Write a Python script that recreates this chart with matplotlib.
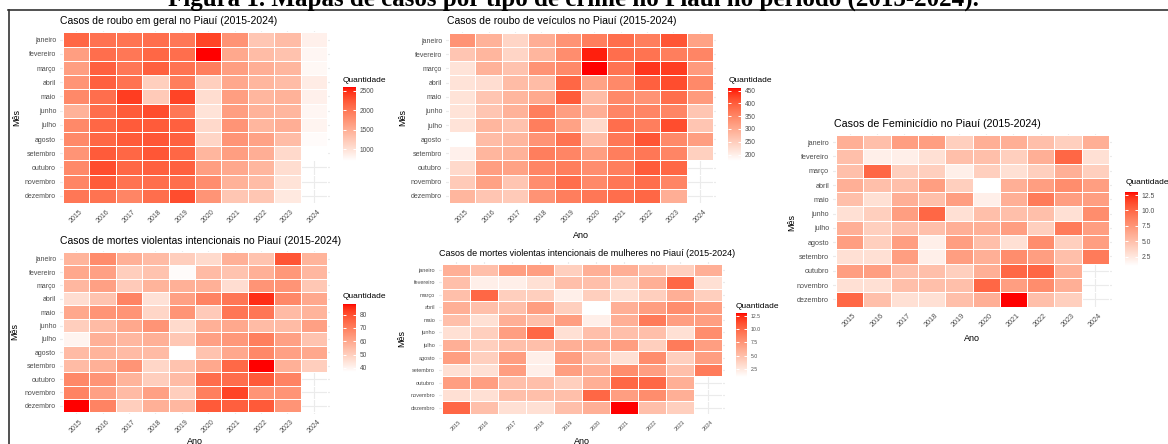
import numpy as np
import matplotlib
matplotlib.use("Agg")
import matplotlib.pyplot as plt
from matplotlib.colors import ListedColormap
from matplotlib.lines import Line2D

# figure size in pixels (dpi 100)
W, H = 1168, 444

MESES = ["janeiro", "fevereiro", "março", "abril", "maio", "junho", "julho",
         "agosto", "setembro", "outubro", "novembro", "dezembro"]
ANOS = ["2015", "2016", "2017", "2018", "2019", "2020", "2021", "2022", "2023", "2024"]
NA = np.nan

# rows = months, columns = years 2015..2024 (2024 only up to setembro)
ROUBO_GERAL = [
    [2118, 2031, 2019, 2064, 1987, 2366, 1741, 1268, 1360, 852],
    [1645, 2061, 1985, 2118, 2061, 2590, 1551, 1362, 1305, 795],
    [1645, 2174, 1985, 2174, 2023, 1929, 1645, 1494, 1418, 776],
    [1740, 2174, 2023, 1173, 1929, 1173, 1551, 1418, 1362, 889],
    [1834, 2061, 2401, 1229, 2363, 1040, 1645, 1418, 1456, 851],
    [1456, 2061, 2212, 2307, 1985, 984, 1645, 1456, 1418, 795],
    [1834, 2118, 2212, 2212, 2174, 1078, 1740, 1418, 1494, 813],
    [1834, 2118, 2212, 2250, 2174, 1116, 1740, 1607, 1362, 738],
    [1740, 2212, 2118, 2250, 2118, 1418, 1645, 1494, 1078, 700],
    [1834, 2307, 2118, 2174, 2174, 1645, 1551, 1418, 1040, NA],
    [1872, 2212, 2023, 2061, 2061, 1796, 1456, 1362, 984, NA],
    [1985, 2023, 1872, 2061, 2307, 1740, 1267, 1267, 927, NA],
]

ROUBO_VEICULOS = [
    [332, 289, 238, 295, 332, 360, 380, 360, 409, 312],
    [261, 283, 238, 283, 340, 451, 380, 375, 360, 352],
    [218, 289, 266, 332, 346, 460, 375, 437, 432, 323],
    [218, 226, 275, 275, 389, 312, 346, 397, 417, 346],
    [218, 261, 283, 303, 403, 275, 346, 332, 380, 323],
    [218, 261, 289, 360, 318, 295, 352, 352, 352, 261],
    [218, 283, 266, 360, 312, 232, 380, 360, 417, 261],
    [175, 275, 283, 332, 375, 275, 369, 409, 346, 318],
    [198, 283, 289, 360, 352, 318, 360, 369, 352, 246],
    [232, 318, 312, 352, 360, 340, 360, 403, 389, NA],
    [255, 312, 261, 340, 380, 346, 369, 380, 352, NA],
    [283, 261, 255, 332, 360, 369, 380, 389, 295, NA],
]

FEMINICIDIO = [
    [6, 5, 7, 7, 4, 6, 6, 5, 4, 6],
    [5, 2, 2, 3, 5, 5, 4, 6, 10, 3],
    [5, 10, 4, 4, 2, 4, 3, 4, 6, 4],
    [6, 5, 5, 7, 4, 1, 6, 7, 8, 7],
    [5, 3, 6, 5, 7, 2, 6, 9, 7, 7],
    [3, 4, 7, 10, 3, 5, 5, 5, 3, 8],
    [6, 4, 5, 5, 6, 6, 7, 4, 9, 7],
    [7, 4, 7, 2, 7, 5, 3, 8, 4, 7],
    [3, 3, 7, 2, 7, 6, 8, 7, 5, 9],
    [7, 7, 5, 5, 4, 6, 10, 10, 6, NA],
    [3, 3, 5, 5, 5, 10, 7, 8, 6, NA],
    [10, 5, 3, 3, 5, 6, 13, 5, 4, NA],
]

MORTES_VIOLENTAS = [
    [57, 67, 58, 55, 50, 47, 58, 53, 79, 57],
    [60, 62, 50, 53, 38, 55, 53, 58, 64, 56],
    [56, 62, 51, 57, 58, 58, 46, 65, 65, 52],
    [46, 53, 69, 45, 62, 69, 72, 85, 68, 60],
    [60, 65, 65, 48, 65, 51, 72, 72, 55, 57],
    [50, 55, 60, 65, 47, 58, 60, 55, 55, 62],
    [40, 58, 56, 58, 52, 62, 64, 70, 62, 53],
    [55, 57, 55, 55, 37, 53, 60, 68, 62, 60],
    [55, 58, 65, 48, 53, 60, 75, 88, 58, 50],
    [68, 65, 57, 50, 55, 74, 74, 78, 69, NA],
    [69, 62, 55, 62, 50, 70, 82, 65, 65, NA],
    [88, 69, 50, 58, 56, 78, 77, 78, 65, NA],
]

# the women's violent deaths map shows the same counts as the feminicide map
MORTES_MULHERES = FEMINICIDIO


def lab_to_rgb(L, a, b):
    fy = (L + 16) / 116
    fx = fy + a / 500
    fz = fy - b / 200

    def finv(f):
        return np.where(f > 6 / 29, f ** 3, 3 * (6 / 29) ** 2 * (f - 4 / 29))

    xyz = np.vstack([0.95047 * finv(fx), finv(fy), 1.08883 * finv(fz)])
    m = np.array([[3.2406, -1.5372, -0.4986],
                  [-0.9689, 1.8758, 0.0415],
                  [0.0557, -0.2040, 1.0570]])
    rgb = np.clip(m @ xyz, 0, None)
    rgb = np.where(rgb <= 0.0031308, 12.92 * rgb, 1.055 * rgb ** (1 / 2.4) - 0.055)
    return np.clip(rgb.T, 0, 1)


# white -> red gradient interpolated in Lab, like ggplot's scale_fill_gradient
t = np.linspace(0, 1, 256)
CMAP = ListedColormap(lab_to_rgb(100 - 46.76 * t, 80.09 * t, 67.20 * t))


def rect(x0, y0, x1, y1):
    return [x0 / W, 1 - y1 / H, (x1 - x0) / W, (y1 - y0) / H]


def ftext(x, y, s, **kw):
    return fig.text(x / W, 1 - y / H, s, **kw)


fig = plt.figure(figsize=(W / 100, H / 100), dpi=100)
plt.rcParams["font.family"] = ["Liberation Sans", "DejaVu Sans"]

# (data, title, tiles box, colorbar box, ticks, fmt, title pos, title size,
#  tick size, mes pos, ano pos, quantidade pos)
panels = [
    (ROUBO_GERAL, "Casos de roubo em geral no Piauí (2015-2024)",
     (63, 32.5, 327, 203), (343, 87, 356, 161), [1000, 1500, 2000, 2500], "{:.0f}",
     (60, 20.5), 7.5, 5.0, (17, 118), None, (343, 80)),
    (ROUBO_VEICULOS, "Casos de roubo de veículos no Piauí (2015-2024)",
     (449, 33, 713, 203), (728, 88, 741, 161), [200, 250, 300, 350, 400, 450], "{:.0f}",
     (447, 20.5), 7.5, 5.0, (403, 117), (581, 235), (729, 80)),
    (FEMINICIDIO, "Casos de Feminicídio no Piauí (2015-2024)",
     (836, 135, 1109, 306.5), (1125, 192, 1138, 266), [2.5, 5.0, 7.5, 10.0, 12.5], "{:.1f}",
     (834, 124), 7.7, 5.2, (792, 222), (972, 338), (1126, 182)),
    (MORTES_VIOLENTAS, "Casos de mortes violentas intencionais no Piauí (2015-2024)",
     (63, 252, 327, 412.5), (343, 304, 356, 372), [40, 50, 60, 70, 80], "{:.0f}",
     (60, 241), 7.5, 5.0, (15, 331), (195, 441), (343, 296)),
    (MORTES_MULHERES, "Casos de mortes violentas intencionais de mulheres no Piauí (2015-2024)",
     (442, 263.5, 722, 414), (736, 313, 747, 377), [2.5, 5.0, 7.5, 10.0, 12.5], "{:.1f}",
     (439, 253), 6.5, 4.0, (402, 338), (582, 441), (736, 306)),
]

for (data, title, tiles, cbox, ticks, fmt, tpos, tsize, ksize,
     mes_pos, ano_pos, q_pos) in panels:
    z = np.ma.masked_invalid(np.array(data, dtype=float))
    x0, y0, x1, y1 = tiles
    dx = (x1 - x0) / 10 * 0.1
    dy = (y1 - y0) / 12 * 0.1
    ax = fig.add_axes(rect(x0 - dx, y0 - dy, x1 + dx, y1 + dy))
    mesh = ax.pcolormesh(np.arange(-0.5, 10, 1), np.arange(-0.5, 12, 1), z,
                         cmap=CMAP, vmin=z.min(), vmax=z.max(),
                         edgecolors="white", linewidth=0.7)
    ax.set_xlim(-0.6, 9.6)
    ax.set_ylim(11.6, -0.6)
    ax.set_xticks(range(10))
    ax.set_xticklabels(ANOS, rotation=45, ha="center", va="top")
    ax.set_yticks(range(12))
    ax.set_yticklabels(MESES)
    ax.tick_params(length=0, labelsize=ksize, labelcolor="#4D4D4D", pad=3)
    ax.grid(color="#EBEBEB", linewidth=0.8)
    ax.set_axisbelow(True)
    for s in ax.spines.values():
        s.set_visible(False)

    ftext(tpos[0], tpos[1], title, fontsize=tsize, va="center", ha="left")
    ftext(mes_pos[0], mes_pos[1], "Mês", fontsize=6.5, rotation=90,
          ha="center", va="center")
    if ano_pos is not None:
        ftext(ano_pos[0], ano_pos[1], "Ano", fontsize=6.5, ha="center", va="center")

    cax = fig.add_axes(rect(*cbox))
    cb = fig.colorbar(mesh, cax=cax)
    cb.outline.set_visible(False)
    cb.set_ticks(ticks)
    cb.set_ticklabels([fmt.format(v) for v in ticks])
    cax.tick_params(axis="y", direction="in", length=2.5, width=0.7, colors="white",
                    left=True, right=True, labelcolor="#4D4D4D",
                    labelsize=ksize - 0.3, pad=2.5)
    ftext(q_pos[0], q_pos[1], "Quantidade", fontsize=6, ha="left", va="center")

# document caption, mostly cut off at the top, and the frame lines
fig.text(168 / W, 1 - 6 / H,
         "Figura 1. Mapas de casos por tipo de crime no Piauí no período (2015-2024).",
         family="Liberation Serif", fontweight="bold", fontsize=18,
         ha="left", va="baseline")
fig.add_artist(Line2D([8 / W, 1], [1 - 10.5 / H, 1 - 10.5 / H], color="#333333", lw=1.2))
fig.add_artist(Line2D([8.5 / W, 8.5 / W], [0, 1 - 10.5 / H], color="#333333", lw=1.2))

fig.savefig("out.png", dpi=100)
